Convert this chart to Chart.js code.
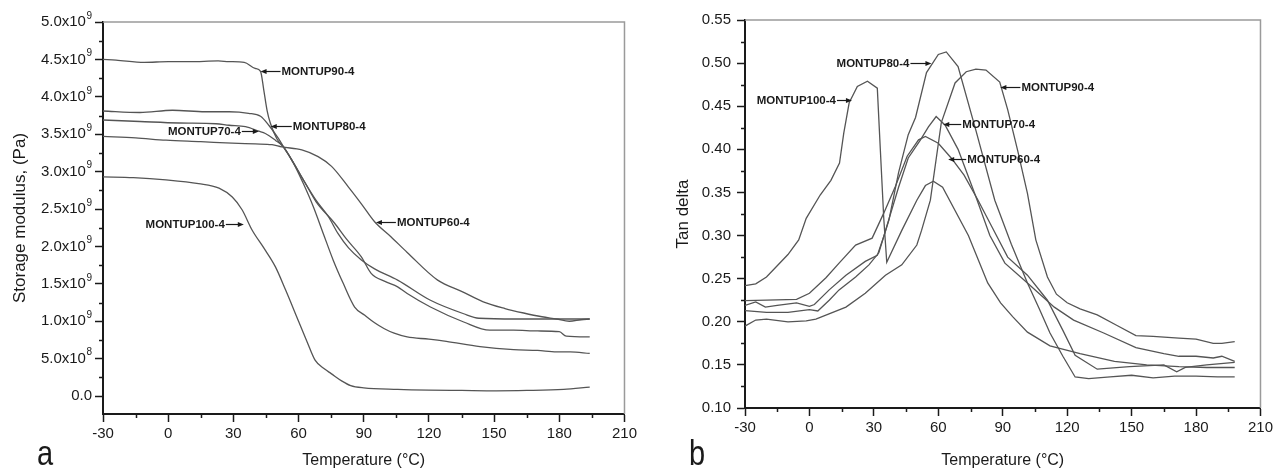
<!DOCTYPE html>
<html>
<head>
<meta charset="utf-8">
<script src="https://cdn.jsdelivr.net/npm/chart.js@4.4.0/dist/chart.umd.min.js"></script>
<style>
  html, body { margin: 0; padding: 0; background: #fff; }
  body { width: 1276px; height: 470px; position: relative; overflow: hidden; }
  canvas { position: absolute; top: 0; }
  #chartA { left: 0; }
  #chartB { left: 640px; }
</style>
</head>
<body>
<canvas id="chartA" width="640" height="470"></canvas>
<canvas id="chartB" width="636" height="470"></canvas>
<script>
// ---- panel a: storage modulus (Pa) vs temperature (°C)
const tempA90 = [-30, -24, -11, 0, 10, 23, 28, 35, 40, 42.5, 44, 45.5, 47, 50, 53, 57.7, 62.2, 66.8, 71.4, 75.9, 80.5, 85.8, 90.5, 95, 99.5, 104, 110, 120, 128, 143.5, 159, 170, 178.7, 185, 194];
const modA90 = [4.50e9, 4.49e9, 4.46e9, 4.47e9, 4.47e9, 4.48e9, 4.47e9, 4.46e9, 4.38e9, 4.34e9, 4.09e9, 3.82e9, 3.65e9, 3.44e9, 3.33e9, 3.11e9, 2.84e9, 2.53e9, 2.17e9, 1.82e9, 1.51e9, 1.19e9, 1.08e9, 0.98e9, 0.90e9, 0.84e9, 0.79e9, 0.76e9, 0.73e9, 0.66e9, 0.62e9, 0.61e9, 0.59e9, 0.59e9, 0.57e9];

const tempA80 = [-30, -13, 2, 17, 28, 37, 42.5, 46.3, 50.8, 53.1, 57, 62, 68, 73.7, 78.2, 83, 88.9, 95, 105.6, 120.7, 136, 143, 160, 180, 194];
const modA80 = [3.81e9, 3.79e9, 3.82e9, 3.80e9, 3.80e9, 3.78e9, 3.74e9, 3.62e9, 3.44e9, 3.33e9, 3.15e9, 2.90e9, 2.62e9, 2.40e9, 2.17e9, 1.98e9, 1.82e9, 1.70e9, 1.55e9, 1.28e9, 1.10e9, 1.04e9, 1.03e9, 1.03e9, 1.03e9];

const tempA70 = [-30, -13, 5, 22, 28, 35.6, 41.7, 44.7, 49.3, 53.1, 58, 63, 68, 76.6, 82, 88.9, 93.4, 100, 105.6, 110, 120.7, 136, 148, 159, 170, 180, 183.2, 194];
const modA70 = [3.69e9, 3.67e9, 3.65e9, 3.64e9, 3.62e9, 3.60e9, 3.54e9, 3.51e9, 3.42e9, 3.33e9, 3.10e9, 2.85e9, 2.60e9, 2.31e9, 2.10e9, 1.86e9, 1.64e9, 1.53e9, 1.46e9, 1.37e9, 1.19e9, 0.99e9, 0.88e9, 0.88e9, 0.87e9, 0.86e9, 0.80e9, 0.79e9];

const tempA60 = [-30, -15, -1, 15, 29.4, 40, 47.8, 52.3, 61.5, 69, 75.2, 82.8, 88.9, 95, 102.5, 110, 124, 135, 145, 155, 163.6, 172, 178.7, 184.6, 190, 194];
const modA60 = [3.47e9, 3.45e9, 3.42e9, 3.40e9, 3.38e9, 3.37e9, 3.36e9, 3.33e9, 3.29e9, 3.20e9, 3.07e9, 2.80e9, 2.57e9, 2.33e9, 2.13e9, 1.92e9, 1.55e9, 1.40e9, 1.26e9, 1.17e9, 1.11e9, 1.06e9, 1.03e9, 1.00e9, 1.02e9, 1.03e9];

const tempA100 = [-30, -16, -1, 14, 23.4, 29.5, 34, 38.6, 44, 49.3, 54, 60, 64, 67.6, 72, 75, 80, 84, 90, 105.6, 120, 135, 151, 165, 182, 194];
const modA100 = [2.93e9, 2.92e9, 2.89e9, 2.84e9, 2.78e9, 2.66e9, 2.49e9, 2.22e9, 1.98e9, 1.73e9, 1.42e9, 1.00e9, 0.72e9, 0.48e9, 0.36e9, 0.30e9, 0.20e9, 0.14e9, 0.11e9, 0.09e9, 0.08e9, 0.075e9, 0.07e9, 0.075e9, 0.09e9, 0.12e9];

// ---- panel b: tan delta vs temperature (°C)
const tempB100 = [-30, -25, -20, -15, -10, -5, -1.5, 5, 10, 14, 16, 18.5, 22.3, 27, 31.6, 33, 34.6, 36, 43, 50, 54, 57.7, 62, 74, 83, 89, 94.6, 101.5, 112, 126, 142, 157, 172, 185, 198];
const tanB100 = [0.242, 0.244, 0.252, 0.265, 0.278, 0.295, 0.320, 0.347, 0.364, 0.384, 0.419, 0.454, 0.473, 0.479, 0.471, 0.400, 0.320, 0.269, 0.306, 0.341, 0.358, 0.363, 0.356, 0.300, 0.245, 0.222, 0.206, 0.188, 0.172, 0.163, 0.154, 0.150, 0.148, 0.147, 0.147];

const tempB90 = [-30, -25, -20, -10, -1.5, 3, 10, 17, 26, 35.4, 43, 50, 52.2, 56.3, 61.4, 67.8, 73, 77.5, 82.2, 88.6, 92.3, 96.9, 101.5, 105.4, 110.8, 115, 120, 126, 134, 143, 152, 160, 172, 180, 188, 192, 198];
const tanB90 = [0.195, 0.202, 0.203, 0.200, 0.201, 0.203, 0.210, 0.217, 0.233, 0.254, 0.266, 0.289, 0.306, 0.341, 0.431, 0.477, 0.490, 0.493, 0.492, 0.478, 0.446, 0.399, 0.349, 0.295, 0.252, 0.232, 0.222, 0.215, 0.208, 0.196, 0.184, 0.183, 0.181, 0.180, 0.175, 0.175, 0.177];

const tempB80 = [-30, -20, -10, 0, 3.9, 9.2, 13.8, 21.5, 27.7, 32.3, 37, 41.5, 46, 49.4, 54.5, 60, 63.7, 69.2, 77.5, 86.3, 94, 101.5, 107, 112, 118, 123.7, 130, 140, 150, 160, 170, 180, 190, 198];
const tanB80 = [0.213, 0.211, 0.211, 0.214, 0.2125, 0.225, 0.237, 0.252, 0.266, 0.280, 0.318, 0.373, 0.417, 0.437, 0.489, 0.510, 0.513, 0.496, 0.422, 0.341, 0.290, 0.245, 0.215, 0.187, 0.160, 0.136, 0.134, 0.136, 0.138, 0.135, 0.137, 0.137, 0.136, 0.136];

const tempB70 = [-30, -25, -20.5, -15, -6, 0, 2.3, 9.2, 17, 26, 31.6, 34.6, 41.5, 46, 51.7, 55.4, 59, 63.2, 69.2, 77.5, 84, 91, 101.5, 114, 123, 137, 152, 165, 172, 180, 188, 192, 198];
const tanB70 = [0.219, 0.223, 0.217, 0.219, 0.222, 0.218, 0.220, 0.237, 0.254, 0.270, 0.277, 0.299, 0.356, 0.390, 0.411, 0.426, 0.438, 0.428, 0.400, 0.345, 0.300, 0.268, 0.245, 0.217, 0.202, 0.187, 0.170, 0.163, 0.160, 0.160, 0.158, 0.160, 0.154];

const tempB60 = [-30, -20, -6, 0, 7.7, 13.8, 21.5, 29.2, 34.6, 40, 45.5, 50.8, 54, 60, 66, 72, 78.5, 85, 92.3, 101.5, 110.8, 118, 123.7, 134, 149, 165, 171, 175, 185, 198];
const tanB60 = [0.2245, 0.225, 0.226, 0.233, 0.251, 0.268, 0.289, 0.297, 0.326, 0.357, 0.392, 0.411, 0.415, 0.407, 0.390, 0.370, 0.341, 0.310, 0.275, 0.254, 0.225, 0.190, 0.161, 0.145, 0.148, 0.150, 0.142, 0.147, 0.150, 0.153];

// tick values
const tempTicks = [-30, 0, 30, 60, 90, 120, 150, 180, 210];
const modTicks = [0, 5e8, 1e9, 1.5e9, 2e9, 2.5e9, 3e9, 3.5e9, 4e9, 4.5e9, 5e9];
const tanTicks = [0.10, 0.15, 0.20, 0.25, 0.30, 0.35, 0.40, 0.45, 0.50, 0.55];

// curve labels: arrow tip sits on the curve at (x, y) in data units
const notesA = [
  { text: "MONTUP90-4", x: 42.5, y: 4.34e9, side: "right", len: 20 },
  { text: "MONTUP80-4", x: 47.2, y: 3.61e9, side: "right", len: 21 },
  { text: "MONTUP70-4", x: 41.7, y: 3.54e9, side: "left", len: 17 },
  { text: "MONTUP60-4", x: 95.6, y: 2.33e9, side: "right", len: 20 },
  { text: "MONTUP100-4", x: 34.8, y: 2.30e9, side: "left", len: 18 },
];
const notesB = [
  { text: "MONTUP80-4", x: 56.8, y: 0.500, side: "left", len: 21 },
  { text: "MONTUP100-4", x: 19.8, y: 0.457, side: "left", len: 15 },
  { text: "MONTUP90-4", x: 88.9, y: 0.472, side: "right", len: 20 },
  { text: "MONTUP70-4", x: 62.3, y: 0.429, side: "right", len: 18 },
  { text: "MONTUP60-4", x: 64.6, y: 0.389, side: "right", len: 18 },
];

const FONT = "'Liberation Sans', Arial, sans-serif";
const INK = "#1a1a1a";
const LINE = "#555";

const pts = (xs, ys) => xs.map((x, i) => ({ x: x, y: ys[i] }));

// mantissa / exponent for the modulus tick labels, e.g. 4.5 x 10^9
const modParts = (v) => {
  if (v === 0) return ["0.0", ""];
  if (v < 1e9) return [(v / 1e8).toFixed(1) + "x10", "8"];
  return [(v / 1e9).toFixed(1) + "x10", "9"];
};

const decor = {
  id: "decor",
  afterDraw(chart, args, opts) {
    const { ctx, chartArea: a, scales } = chart;
    const x = scales.x, y = scales.y;
    ctx.save();
    // thin top/right frame
    ctx.strokeStyle = "#9a9a9a";
    ctx.lineWidth = 1.5;
    ctx.beginPath();
    ctx.moveTo(a.left, a.top);
    ctx.lineTo(a.right, a.top);
    ctx.lineTo(a.right, a.bottom);
    ctx.stroke();

    // minor ticks halfway between the major ones
    ctx.strokeStyle = INK;
    ctx.lineWidth = 1.5;
    const mids = (ticks) => ticks.slice(1).map((t, i) => (t.value + ticks[i].value) / 2);
    ctx.beginPath();
    mids(x.ticks).forEach((v) => {
      const px = Math.round(x.getPixelForValue(v)) + 0.5;
      ctx.moveTo(px, a.bottom);
      ctx.lineTo(px, a.bottom + 4);
    });
    mids(y.ticks).forEach((v) => {
      const py = Math.round(y.getPixelForValue(v)) + 0.5;
      ctx.moveTo(a.left - 4, py);
      ctx.lineTo(a.left, py);
    });
    ctx.stroke();

    // y labels with a raised exponent (panel a)
    if (opts.powerLabels) {
      ctx.fillStyle = INK;
      ctx.textBaseline = "middle";
      ctx.textAlign = "right";
      y.ticks.forEach((t) => {
        const [base, exp] = modParts(t.value);
        const py = y.getPixelForValue(t.value);
        const right = a.left - 11;
        ctx.font = "10px " + FONT;
        const ew = exp ? ctx.measureText(exp).width + 0.5 : 0;
        if (exp) ctx.fillText(exp, right, py - 6);
        ctx.font = "15px " + FONT;
        ctx.fillText(base, right - ew, py);
      });
    }

    // curve labels with arrows
    ctx.font = "bold 11.5px " + FONT;
    ctx.textBaseline = "middle";
    ctx.fillStyle = INK;
    ctx.lineWidth = 1.2;
    (opts.notes || []).forEach((n) => {
      const tx = x.getPixelForValue(n.x);
      const ty = Math.round(y.getPixelForValue(n.y)) + 0.5;
      const dir = n.side === "right" ? 1 : -1;
      const end = tx + dir * n.len;
      ctx.beginPath();
      ctx.moveTo(tx + dir * 5, ty);
      ctx.lineTo(end, ty);
      ctx.stroke();
      ctx.beginPath();
      ctx.moveTo(tx, ty);
      ctx.lineTo(tx + dir * 6, ty - 2.5);
      ctx.lineTo(tx + dir * 6, ty + 2.5);
      ctx.closePath();
      ctx.fill();
      ctx.textAlign = dir > 0 ? "left" : "right";
      ctx.fillText(n.text, end + dir * 1, ty);
    });

    // panel letter
    ctx.font = "29px " + FONT;
    ctx.textAlign = "left";
    ctx.textBaseline = "alphabetic";
    ctx.fillStyle = INK;
    ctx.translate(opts.letterX, 465);
    ctx.scale(1, 1.2);
    ctx.fillText(opts.letter, 0, 0);
    ctx.restore();
  },
};

function makeChart(id, cfg) {
  const ds = cfg.series.map((s) => ({
    data: s,
    borderColor: LINE,
    borderWidth: 1.3,
    pointRadius: 0,
    fill: false,
    tension: cfg.smooth ? 0.35 : 0,
    cubicInterpolationMode: cfg.smooth ? "monotone" : "default",
  }));
  return new Chart(document.getElementById(id), {
    type: "line",
    data: { datasets: ds },
    plugins: [decor],
    options: {
      responsive: false,
      animation: false,
      devicePixelRatio: 1,
      layout: { padding: { top: cfg.top, right: 12, left: 0, bottom: 0 } },
      plugins: {
        legend: { display: false },
        tooltip: { enabled: false },
        decor: { notes: cfg.notes, letter: cfg.letter, letterX: cfg.letterX, powerLabels: cfg.powerLabels },
      },
      scales: {
        x: {
          type: "linear",
          min: -30,
          max: 210,
          afterBuildTicks: (s) => { s.ticks = tempTicks.map((v) => ({ value: v })); },
          afterFit: (s) => { s.height = cfg.xAxisH; },
          grid: { display: true, drawOnChartArea: false, tickLength: 8, tickWidth: 1.5, tickColor: INK },
          border: { display: true, width: 2, color: INK },
          ticks: { color: INK, padding: 3, maxRotation: 0, font: { family: FONT, size: 15 } },
          title: {
            display: true,
            text: "Temperature (°C)",
            color: INK,
            padding: { top: 0, bottom: 0 },
            font: { family: FONT, size: 16 },
          },
        },
        y: {
          type: "linear",
          min: cfg.yMin,
          max: cfg.yMax,
          afterBuildTicks: (s) => { s.ticks = cfg.yTicks.map((v) => ({ value: v })); },
          afterFit: (s) => { s.width = cfg.yAxisW; },
          grid: { display: true, drawOnChartArea: false, tickLength: 8, tickWidth: 1.5, tickColor: INK },
          border: { display: true, width: 2, color: INK },
          ticks: {
            display: !cfg.powerLabels,
            color: INK,
            padding: cfg.yPad,
            font: { family: FONT, size: 15 },
            callback: cfg.yFmt,
          },
          title: {
            display: true,
            text: cfg.yTitle,
            color: INK,
            padding: { top: cfg.yTitlePad, bottom: 0 },
            font: { family: FONT, size: 17 },
          },
        },
      },
    },
  });
}

makeChart("chartA", {
  series: [pts(tempA90, modA90), pts(tempA80, modA80), pts(tempA70, modA70), pts(tempA60, modA60), pts(tempA100, modA100)],
  smooth: true,
  notes: notesA,
  letter: "a",
  letterX: 37,
  top: 22,
  xAxisH: 56,
  yAxisW: 103,
  yMin: -2.4e8,
  yMax: 5e9,
  yTicks: modTicks,
  yPad: 3,
  powerLabels: true,
  yFmt: (v) => modParts(v).join(""),
  yTitle: "Storage modulus, (Pa)",
  yTitlePad: 10,
});

makeChart("chartB", {
  series: [pts(tempB100, tanB100), pts(tempB90, tanB90), pts(tempB80, tanB80), pts(tempB70, tanB70), pts(tempB60, tanB60)],
  smooth: false,
  notes: notesB,
  letter: "b",
  letterX: 49,
  top: 20,
  xAxisH: 62,
  yAxisW: 105,
  yMin: 0.10,
  yMax: 0.55,
  yTicks: tanTicks,
  yPad: 6,
  powerLabels: false,
  yFmt: (v) => v.toFixed(2),
  yTitle: "Tan delta",
  yTitlePad: 33,
});
</script>
</body>
</html>
